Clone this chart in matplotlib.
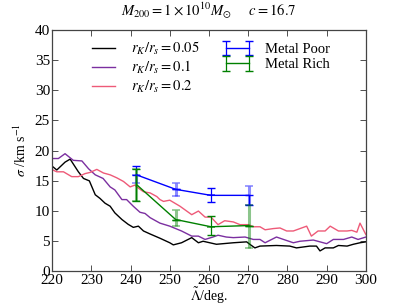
import numpy as np
import matplotlib
matplotlib.use('Agg')
import matplotlib.pyplot as plt

plt.rcParams['font.family'] = ['Liberation Serif', 'DejaVu Serif']
plt.rcParams['mathtext.fontset'] = 'stix'
plt.rcParams['xtick.direction'] = 'in'
plt.rcParams['ytick.direction'] = 'in'
plt.rcParams['xtick.top'] = True
plt.rcParams['ytick.right'] = True

# r_K/r_s = 0.05
x_005 = [219.5, 221.2, 223.3, 224.6, 226.7, 228.0, 229.5, 231.0, 232.2, 233.5, 234.8, 236.0, 237.8,
         239.4, 240.7, 242.0, 243.3, 245.0, 247.5, 250.0, 250.9, 253.0, 255.6, 257.3, 258.5, 261.9,
         266.2, 269.6, 270.4, 271.7, 273.0, 277.2, 280.6, 282.3, 285.7, 287.4, 288.3, 289.6, 291.7,
         293.0, 295.2, 296.8, 298.5, 300.0]
y_005 = [17.7, 16.8, 18.1, 18.6, 16.5, 15.4, 15.0, 12.7, 12.1, 11.3, 10.8, 9.7, 8.6,
         7.8, 7.3, 7.5, 6.7, 6.2, 5.5, 4.75, 4.4, 4.75, 5.6, 4.75, 5.0, 4.5,
         4.75, 4.9, 4.5, 3.9, 4.2, 4.3, 4.2, 3.9, 4.2, 4.2, 3.4, 3.9, 3.9,
         4.3, 4.2, 4.5, 4.75, 4.9]

# r_K/r_s = 0.1
x_01 = [219.5, 221.6, 223.3, 225.4, 227.6, 229.3, 231.0, 233.0, 234.8, 236.0, 237.8, 239.0, 240.7,
        242.4, 243.7, 245.0, 247.5, 250.0, 253.0, 255.6, 257.3, 259.0, 261.0, 262.3, 264.4, 266.2,
        269.2, 271.3, 273.0, 274.3, 277.2, 279.0, 281.5, 283.2, 286.6, 288.3, 290.0, 291.7, 294.3,
        296.4, 298.0, 300.0]
y_01 = [18.7, 18.7, 19.5, 18.4, 18.3, 17.0, 16.0, 15.4, 14.0, 13.5, 11.9, 11.9, 10.8,
        9.8, 9.6, 8.9, 8.0, 7.5, 6.7, 5.85, 5.85, 5.3, 5.7, 6.0, 5.7, 5.6,
        5.7, 5.3, 5.3, 4.75, 5.7, 5.3, 4.75, 5.0, 5.2, 4.9, 4.6, 5.3, 5.3,
        5.7, 5.3, 5.7]

# r_K/r_s = 0.2
x_02 = [219.5, 221.2, 222.9, 225.0, 226.7, 228.4, 229.7, 231.4, 233.1, 234.8, 236.5, 238.2, 239.9,
        241.1, 242.0, 243.3, 245.0, 246.7, 247.5, 248.4, 250.0, 252.6, 255.6, 257.3, 259.0, 260.5,
        262.3, 264.0, 266.2, 267.9, 270.0, 271.3, 273.0, 274.3, 276.4, 278.1, 279.8, 281.5, 283.2,
        284.9, 286.1, 287.8, 289.6, 290.9, 293.0, 295.2, 296.4, 297.7, 298.5, 300.0]
y_02 = [17.0, 16.5, 16.5, 15.7, 15.7, 16.2, 16.4, 16.9, 16.3, 16.0, 15.5, 14.9, 14.0,
        14.3, 13.8, 13.2, 13.0, 12.4, 11.9, 11.6, 11.8, 10.8, 9.4, 10.0, 9.0, 9.0,
        7.75, 8.4, 8.2, 7.75, 7.75, 7.4, 7.4, 6.9, 7.1, 7.2, 6.7, 6.7, 7.1,
        7.5, 5.85, 6.7, 6.7, 7.5, 6.7, 6.7, 6.8, 6.5, 8.0, 6.1]

# metal poor / metal rich
x_pop = [241.5, 251.5, 260.5, 270.2]
y_poor = [16.0, 13.6, 12.6, 12.6]
poor_err = [[0.0, 0.0, 1.1, 1.6], [1.4, 0.0, 1.2, 0.0]]
poor_err2 = [[1.4, 1.1, 0.0, 1.6], [0.0, 1.1, 0.0, 1.6]]
y_rich = [14.4, 8.6, 7.4, 7.6]
rich_err = [[2.8, 0.0, 1.3, 0.0], [2.5, 0.0, 1.8, 0.0]]
rich_err2 = [[2.8, 1.1, 0.0, 3.7], [2.5, 1.6, 0.0, 3.4]]

fig = plt.figure(figsize=(4.07, 3.05), dpi=100)
ax = fig.add_axes([0.128, 0.11, 0.771, 0.792])

ax.plot(x_005, y_005, color='black', lw=1.0, label=r'$r_K/r_s = 0.05$')
ax.plot(x_01, y_01, color='#7b2fa0', lw=1.0, label=r'$r_K/r_s = 0.1$')
ax.plot(x_02, y_02, color='#ee5a78', lw=1.0, label=r'$r_K/r_s = 0.2$')

ax.errorbar(x_pop, y_poor, yerr=poor_err2, fmt='none', ecolor='b', alpha=0.45,
            elinewidth=2.2, capsize=3, capthick=1.2)
ax.errorbar(x_pop, y_poor, yerr=poor_err, color='b', lw=1.0, elinewidth=0.9,
            capsize=3, label='Metal Poor')
ax.errorbar(x_pop, y_rich, yerr=rich_err2, fmt='none', ecolor='g', alpha=0.45,
            elinewidth=2.2, capsize=3, capthick=1.2)
ax.errorbar(x_pop, y_rich, yerr=rich_err, color='g', lw=1.0, elinewidth=0.9,
            capsize=3, label='Metal Rich')

ax.set_xlim(220, 300)
ax.set_ylim(0, 40)
ax.set_xticks(np.arange(220, 301, 10))
ax.set_yticks(np.arange(0, 41, 5))
ax.tick_params(labelsize=11, length=4, width=0.6, pad=1.5, colors='#333333', labelcolor='black')
for s in ax.spines.values():
    s.set_color('#444444')
    s.set_linewidth(0.9)

ax.set_xlabel(r'$\tilde{\Lambda}$/deg.', fontsize=10, labelpad=-1)
ax.set_ylabel(r'$\sigma$ /km s$^{-1}$', fontsize=10, labelpad=4)
ax.set_title(r'$M_{200} = 1\times10^{10}M_{\odot}\quad\ \ c = 16.7$', fontsize=10.5, pad=10)

ax.legend(loc='upper center', ncol=2, frameon=False, fontsize=10.5, numpoints=2,
          handlelength=2.2, columnspacing=1.5, borderaxespad=0.3, labelspacing=0.15)

fig.savefig('out.png', dpi=100)
